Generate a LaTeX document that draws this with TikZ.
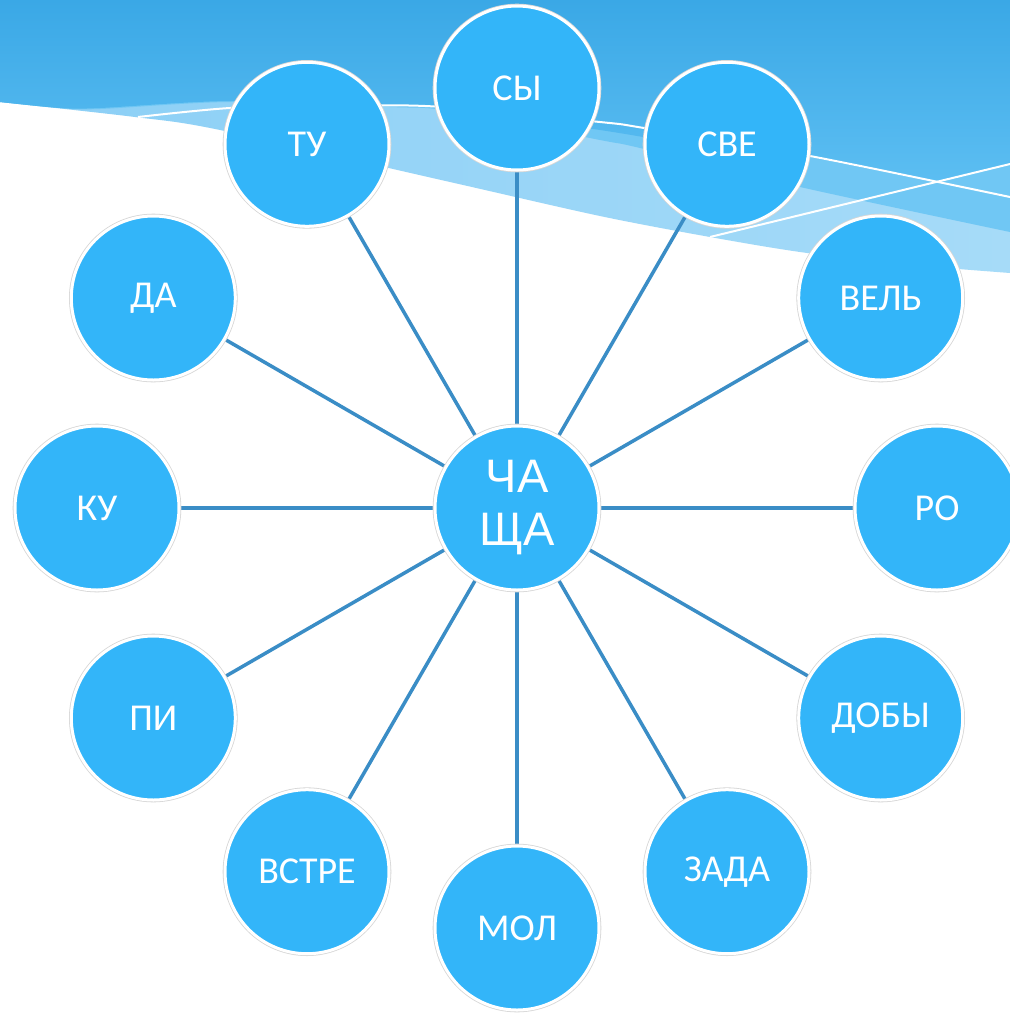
\documentclass[tikz,border=0pt]{standalone}
\usepackage{fontspec}
\setmainfont{Carlito}
\newfontfamily\centerfont{Liberation Sans}
\usetikzlibrary{backgrounds}
\definecolor{circfill}{RGB}{51,181,249}
\definecolor{linkcol}{RGB}{58,141,198}
\definecolor{topA}{RGB}{58,168,230}
\definecolor{topB}{RGB}{92,190,242}
\definecolor{medband}{RGB}{112,199,244}
\definecolor{lightL}{RGB}{139,207,246}
\definecolor{lightR}{RGB}{166,219,248}
\tikzset{
  bubble/.style={circle, fill=circfill, draw=white, line width=3pt,
    minimum size=164pt, inner sep=0pt, text=white,
    font=\fontsize{38}{45}\selectfont,
    preaction={draw=black!16, line width=4.6pt}},
  hub/.style={bubble, align=center, font=\centerfont\fontsize{47}{53}\selectfont},
  link/.style={draw=linkcol, line width=3.5pt},
  waveline/.style={draw=white, line width=2pt},
}
\begin{document}
\begin{tikzpicture}[x=1pt,y=-1pt]
\useasboundingbox (0,0) rectangle (1010,1013);
\clip (0,0) rectangle (1010,1013);
% nodes
\node[hub] (c) at (517,508) {ЧА\\ЩА};
\node[bubble] (sy)   at (517,88)     {СЫ};
\node[bubble] (sve)  at (727,144.3)  {СВЕ};
\node[bubble] (vel)  at (880.7,298)  {ВЕЛЬ};
\node[bubble] (ro)   at (937,508)    {РО};
\node[bubble] (doby) at (880.7,718)  {ДОБЫ};
\node[bubble] (zada) at (727,871.7)  {ЗАДА};
\node[bubble] (mol)  at (517,928)    {МОЛ};
\node[bubble] (vstre) at (307,871.7) {ВСТРЕ};
\node[bubble] (pi)   at (153.3,718)  {ПИ};
\node[bubble] (ku)   at (97,508)     {КУ};
\node[bubble] (da)   at (153.3,298)  {ДА};
\node[bubble] (tu)   at (307,144.3)  {ТУ};
\begin{scope}[on background layer]
  \fill[white] (0,0) rectangle (1010,1013);
  % lightest band (above white boundary)
  \shade[left color=lightL, right color=lightR]
    (0,0) -- plot[smooth] coordinates {(0,102) (135,117) (220,130) (450,182) (600,216) (710,237) (800,252) (900,264) (1010,273)} -- (1010,0) -- cycle;
  % medium band
  \fill[medband]
    (0,0) -- plot[smooth] coordinates {(0,102) (60,108) (100,109) (230,102) (390,107) (450,111) (600,140) (640,148) (800,187) (1010,232)} -- (1010,0) -- cycle;
  % top gradient region
  \shade[top color=topA, bottom color=topB]
    (0,0) -- plot[smooth] coordinates {(0,102) (60,108) (100,108) (230,101) (390,106) (450,109) (600,130) (700,146) (810,157)} -- (935,182) -- (1010,164) -- (1010,0) -- cycle;
  % white wave lines
  \draw[waveline] plot[smooth] coordinates {(138,117) (230,108) (330,106) (435,106.5) (600,122) (644,128) (810,156) (1010,197)};
  \draw[waveline] (710,237) -- (1010,164);
  % connectors
  \foreach \n in {sy,sve,vel,ro,doby,zada,mol,vstre,pi,ku,da,tu}
    \draw[link] (c) -- (\n);
\end{scope}
\end{tikzpicture}
\end{document}
